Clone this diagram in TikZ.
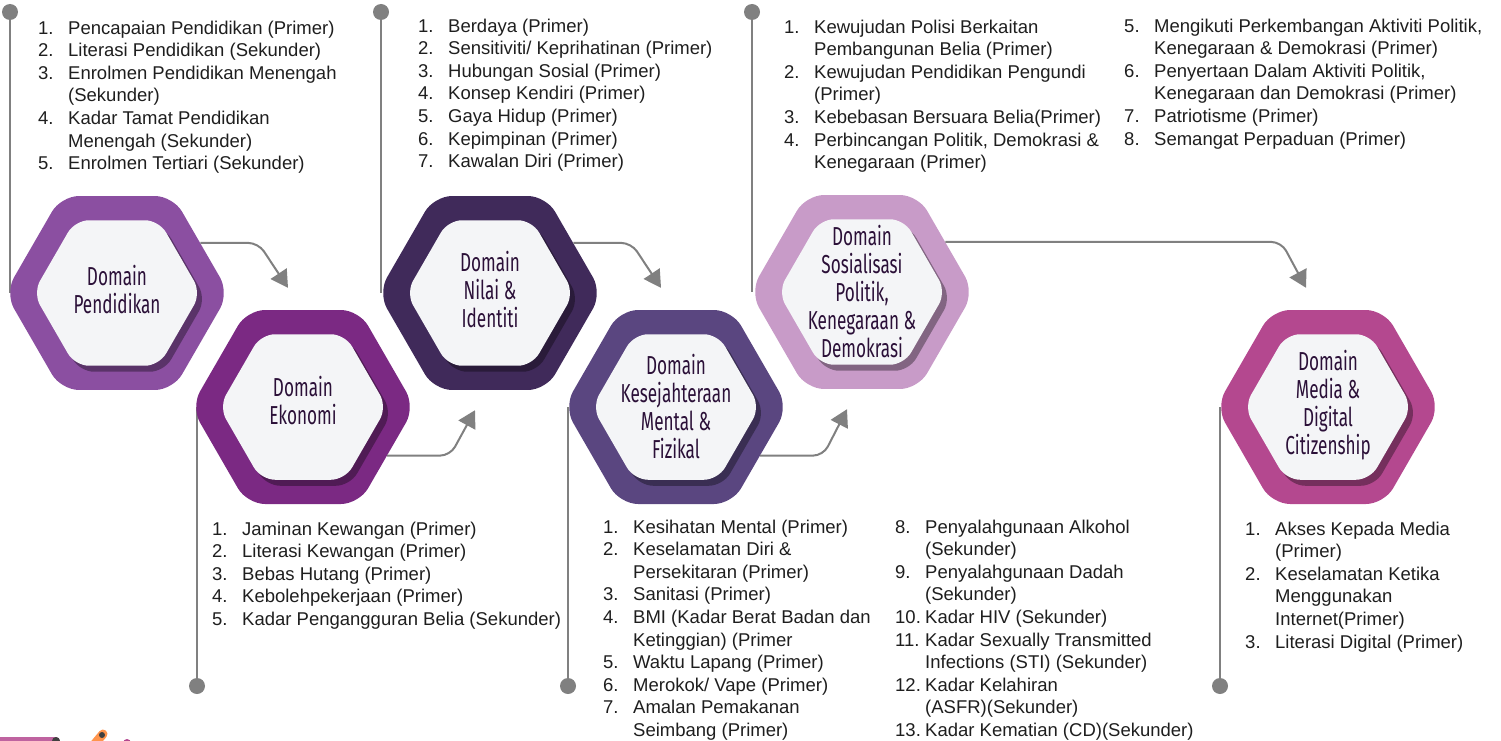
\documentclass[tikz,border=0pt]{standalone}
\usepackage{fontspec}
\setmainfont{Liberation Sans}
\newfontfamily\handfont[FakeStretch=0.66]{Fira Sans}
\usetikzlibrary{shapes.geometric,arrows.meta,positioning,calc,backgrounds}

\definecolor{pendcol}{RGB}{139,79,161}
\definecolor{ekoncol}{RGB}{123,41,131}
\definecolor{nilaicol}{RGB}{64,42,90}
\definecolor{kesejcol}{RGB}{90,70,128}
\definecolor{sosialcol}{RGB}{200,155,200}
\definecolor{mediacol}{RGB}{180,72,143}
\definecolor{hexwhite}{RGB}{244,245,247}
\definecolor{labelcol}{RGB}{43,16,56}
\definecolor{textcol}{RGB}{30,30,30}
\definecolor{linegray}{RGB}{128,128,128}
\newcommand{\listfont}{\fontsize{18.5}{22.6}\selectfont}

\begin{document}
\begin{tikzpicture}[x=1pt, y=-1pt,
    outerhex/.style={regular polygon, regular polygon sides=6, minimum size=224pt, inner sep=0pt, rounded corners=18pt, fill=#1},
    hexshadow/.style={regular polygon, regular polygon sides=6, minimum size=168pt, inner sep=0pt, rounded corners=14pt, fill=#1!65!black},
    innerhex/.style={regular polygon, regular polygon sides=6, minimum size=168pt, inner sep=0pt, rounded corners=14pt, fill=hexwhite},
    hexlabel/.style={align=center, inner sep=0pt, text=labelcol, font=\handfont\fontsize{26}{28}\selectfont},
    flow/.style={draw=linegray, line width=2pt, rounded corners=10pt, -{Triangle[length=17pt,width=19pt]}},
    stem/.style={draw=linegray, line width=2pt},
    pin/.style={circle, fill=linegray, minimum size=16pt, inner sep=0pt},
    itemlist/.style={anchor=north west, inner sep=0pt, font=\listfont, text=textcol, align=left}]
    \useasboundingbox (0,0) rectangle (1501,741);

    % domains
    \node[outerhex=pendcol] (pend) at (117,293) {};
    \node[hexshadow=pendcol] (pendsh) at ($(pend)+(5,6)$) {};
    \node[innerhex] (pendin) at (pend) {};
    \node[hexlabel] (pendlbl) at ($(pendin)+(0,-3)$) {Domain\\Pendidikan};

    \node[outerhex=ekoncol] (ekon) at (303,407) {};
    \node[hexshadow=ekoncol] (ekonsh) at ($(ekon)+(5,6)$) {};
    \node[innerhex] (ekonin) at (ekon) {};
    \node[hexlabel] (ekonlbl) at ($(ekonin)+(0,-6)$) {Domain\\Ekonomi};

    \node[outerhex=nilaicol] (nilai) at (490,293) {};
    \node[hexshadow=nilaicol] (nilaish) at ($(nilai)+(5,6)$) {};
    \node[innerhex] (nilaiin) at (nilai) {};
    \node[hexlabel] (nilailbl) at ($(nilaiin)+(0,-3)$) {Domain\\Nilai \&\\Identiti};

    \node[outerhex=kesejcol] (kesej) at (676,407) {};
    \node[hexshadow=kesejcol] (kesejsh) at ($(kesej)+(5,6)$) {};
    \node[innerhex] (kesejin) at (kesej) {};
    \node[hexlabel] (kesejlbl) at (kesejin) {Domain\\Kesejahteraan\\Mental \&\\Fizikal};

    \node[outerhex=sosialcol] (sosial) at (862,292) {};
    \node[hexshadow=sosialcol] (sosialsh) at ($(sosial)+(5,6)$) {};
    \node[innerhex] (sosialin) at (sosial) {};
    \node[hexlabel] (sosiallbl) at (sosialin) {Domain\\Sosialisasi\\Politik,\\Kenegaraan \&\\Demokrasi};

    \node[outerhex=mediacol] (media) at (1328,407) {};
    \node[hexshadow=mediacol] (mediash) at ($(media)+(5,6)$) {};
    \node[innerhex] (mediain) at (media) {};
    \node[hexlabel] (medialbl) at ($(mediain)+(0,-2)$) {Domain\\Media \&\\Digital\\Citizenship};

    % pins
    \node[pin] (pendpin) at (10,12) {};
    \node[pin] (nilaipin) at (381,12) {};
    \node[pin] (sosialpin) at (752,12) {};
    \node[pin] (ekonpin) at (197,686) {};
    \node[pin] (kesejpin) at (568,686) {};
    \node[pin] (mediapin) at (1220,686) {};

    \begin{scope}[on background layer]
        \draw[stem] (pendpin) -- (pendpin |- pend.center);
        \draw[stem] (nilaipin) -- (nilaipin |- nilai.center);
        \draw[stem] (sosialpin) -- (sosialpin |- sosial.center);
        \draw[stem] (ekonpin |- ekon.center) -- (ekonpin);
        \draw[stem] (kesejpin |- kesej.center) -- (kesejpin);
        \draw[stem] (mediapin |- media.center) -- (mediapin);
    \end{scope}

    % arrows between domains
    \draw[flow] (pend.31) -- ++(58,0) -- ($(ekon.north)+(-15,-22)$);
    \draw[flow] (ekon.-30) -- ++(63,0) -- ($(nilai.south)+(-15,20)$);
    \draw[flow] (nilai.31) -- ++(58,0) -- ($(kesej.north)+(-15,-22)$);
    \draw[flow] (kesej.-30) -- ++(63,0) -- ($(sosial.south)+(-15,20)$);
    \draw[flow] (sosial.31) -- ++(336,0) -- ($(media.north)+(-22,-22)$);

    % indicator lists
    \node[itemlist] (pendlist) at (38,18) {\begin{tabular}{@{}p{30pt}@{}l@{}}
        1. & Pencapaian Pendidikan (Primer)\\
        2. & Literasi Pendidikan (Sekunder)\\
        3. & Enrolmen Pendidikan Menengah\\
           & (Sekunder)\\
        4. & Kadar Tamat Pendidikan\\
           & Menengah (Sekunder)\\
        5. & Enrolmen Tertiari (Sekunder)
    \end{tabular}};
    \node[itemlist] (nilailist) at (418,16) {\begin{tabular}{@{}p{30pt}@{}l@{}}
        1. & Berdaya (Primer)\\
        2. & Sensitiviti/ Keprihatinan (Primer)\\
        3. & Hubungan Sosial (Primer)\\
        4. & Konsep Kendiri (Primer)\\
        5. & Gaya Hidup (Primer)\\
        6. & Kepimpinan (Primer)\\
        7. & Kawalan Diri (Primer)
    \end{tabular}};
    \node[itemlist] (sosiallistA) at (784,17) {\begin{tabular}{@{}p{30pt}@{}l@{}}
        1. & Kewujudan Polisi Berkaitan\\
           & Pembangunan Belia (Primer)\\
        2. & Kewujudan Pendidikan Pengundi\\
           & (Primer)\\
        3. & Kebebasan Bersuara Belia(Primer)\\
        4. & Perbincangan Politik, Demokrasi \&\\
           & Kenegaraan (Primer)
    \end{tabular}};
    \node[itemlist] (sosiallistB) at (1124,16) {\begin{tabular}{@{}p{30pt}@{}l@{}}
        5. & Mengikuti Perkembangan Aktiviti Politik,\\
           & Kenegaraan \& Demokrasi (Primer)\\
        6. & Penyertaan Dalam Aktiviti Politik,\\
           & Kenegaraan dan Demokrasi (Primer)\\
        7. & Patriotisme (Primer)\\
        8. & Semangat Perpaduan (Primer)
    \end{tabular}};
    \node[itemlist] (ekonlist) at (212,519) {\begin{tabular}{@{}p{30pt}@{}l@{}}
        1. & Jaminan Kewangan (Primer)\\
        2. & Literasi Kewangan (Primer)\\
        3. & Bebas Hutang (Primer)\\
        4. & Kebolehpekerjaan (Primer)\\
        5. & Kadar Pengangguran Belia (Sekunder)
    \end{tabular}};
    \node[itemlist] (kesejlistA) at (603,517) {\begin{tabular}{@{}p{30pt}@{}l@{}}
        1. & Kesihatan Mental (Primer)\\
        2. & Keselamatan Diri \&\\
           & Persekitaran (Primer)\\
        3. & Sanitasi (Primer)\\
        4. & BMI (Kadar Berat Badan dan\\
           & Ketinggian) (Primer\\
        5. & Waktu Lapang (Primer)\\
        6. & Merokok/ Vape (Primer)\\
        7. & Amalan Pemakanan\\
           & Seimbang (Primer)
    \end{tabular}};
    \node[itemlist] (kesejlistB) at (895,517) {\begin{tabular}{@{}p{30pt}@{}l@{}}
        8. & Penyalahgunaan Alkohol\\
           & (Sekunder)\\
        9. & Penyalahgunaan Dadah\\
           & (Sekunder)\\
        10. & Kadar HIV (Sekunder)\\
        11. & Kadar Sexually Transmitted\\
           & Infections (STI) (Sekunder)\\
        12. & Kadar Kelahiran\\
           & (ASFR)(Sekunder)\\
        13. & Kadar Kematian (CD)(Sekunder)
    \end{tabular}};
    \node[itemlist] (medialist) at (1245,519) {\begin{tabular}{@{}p{30pt}@{}l@{}}
        1. & Akses Kepada Media\\
           & (Primer)\\
        2. & Keselamatan Ketika\\
           & Menggunakan\\
           & Internet(Primer)\\
        3. & Literasi Digital (Primer)
    \end{tabular}};

    % cut-off shapes at the lower edge
    \fill[mediacol!85!white, rounded corners=4pt] (-5,737) rectangle (60,752);
    \fill[black!75] (56,741) circle (4);
    \draw[orange!80!red!70!white, line width=9pt, line cap=round] (93,746) -- (103,734);
    \fill[black!75] (102,735) circle (3);
    \fill[mediacol] (127,743) circle (4);
\end{tikzpicture}
\end{document}
